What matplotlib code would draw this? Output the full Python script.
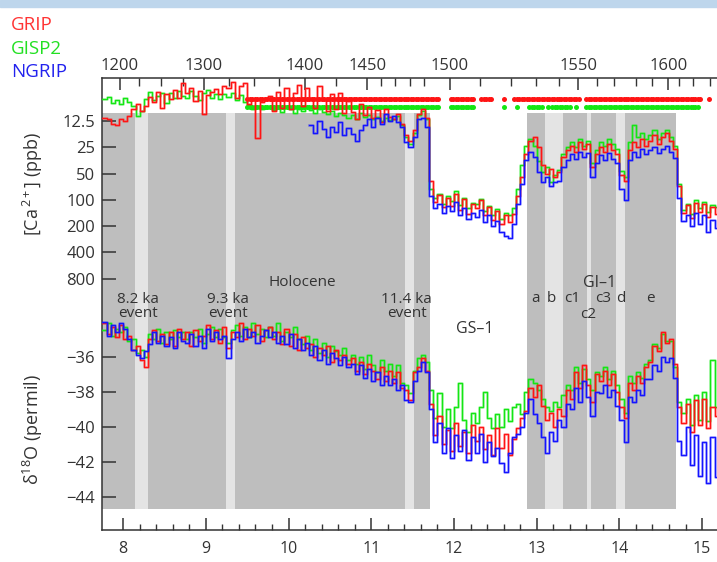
import numpy as np
import matplotlib
matplotlib.use('Agg')
import matplotlib.pyplot as plt
import matplotlib.transforms as mtransforms
from matplotlib.patches import Rectangle

plt.rcParams['font.family'] = ['Open Sans', 'DejaVu Sans']
plt.rcParams['mathtext.fontset'] = 'custom'
plt.rcParams['mathtext.rm'] = 'Open Sans'
plt.rcParams['mathtext.it'] = 'Open Sans:italic'
plt.rcParams['mathtext.bf'] = 'Open Sans:bold'

# ---- data (ages in ka b2k, step 0.05 ka) ----
age = np.round(np.arange(7.75, 15.151, 0.05), 2)

d18_grip = [
    -34.1, -34.7, -34.3, -34.9, -34.2, -35.0, -34.8, -35.6, -35.4, -36.2,
    -36.6, -35.0, -34.5, -35.1, -34.7, -35.3, -34.6, -35.4, -34.4, -35.0,
    -34.6, -35.4, -34.5, -35.1, -34.8, -34.2, -35.0, -34.5, -35.2, -34.3,
    -35.5, -34.6, -34.9, -34.1, -35.0, -34.4, -34.8, -34.2, -35.1, -34.5,
    -34.3, -35.0, -34.6, -35.3, -34.4, -35.4, -34.7, -35.6, -34.9, -35.5,
    -35.3, -36.0, -35.5, -35.9, -35.4, -36.3, -35.6, -36.2, -35.9, -36.4,
    -36.1, -36.8, -36.3, -37.0, -36.4, -36.8, -37.3, -36.6, -37.4, -36.8,
    -37.5, -36.9, -37.8, -37.9, -38.5, -36.9, -36.6, -36.1, -36.8, -38.7,
    -40.5, -39.4, -41.0, -40.2, -41.4, -39.8, -41.1, -40.3, -41.5, -39.9,
    -40.8, -40.0, -41.3, -40.5, -41.6, -40.1, -41.2, -40.4, -41.6, -40.7,
    -40.1, -39.5, -39.1, -37.8, -38.3, -37.6, -38.8, -39.6, -39.2, -40.0,
    -39.0, -39.4, -37.9, -38.4, -36.9, -37.8, -36.5, -37.6, -38.6, -37.0,
    -37.4, -36.8, -37.6, -37.0, -38.0, -38.9, -39.5, -37.5, -37.9, -37.1,
    -37.5, -36.6, -36.3, -35.4, -35.7, -34.6, -35.2, -35.0, -36.4, -38.9,
    -39.8, -38.7, -40.3, -38.5, -39.9, -38.4, -40.1, -38.9, -39.4]

d18_gisp2 = [
    -34.5, -34.1, -34.8, -34.4, -34.6, -34.3, -35.1, -35.0, -35.8, -35.6,
    -36.0, -34.7, -35.0, -34.4, -35.2, -34.6, -35.0, -34.5, -34.9, -34.6,
    -35.0, -34.6, -34.9, -34.4, -35.2, -34.7, -34.3, -34.9, -34.4, -34.9,
    -35.2, -34.5, -34.2, -34.8, -34.3, -34.9, -34.1, -34.7, -34.4, -34.9,
    -34.3, -34.8, -34.1, -35.1, -34.6, -34.9, -34.3, -35.0, -35.3, -34.8,
    -35.6, -35.0, -35.8, -35.2, -36.0, -35.4, -35.7, -35.9, -35.5, -36.2,
    -35.9, -36.4, -36.0, -36.7, -35.9, -36.5, -36.9, -36.2, -36.8, -36.4,
    -37.1, -36.5, -37.5, -37.6, -38.1, -36.8, -36.1, -35.9, -36.3, -37.9,
    -39.5, -38.1, -40.0, -39.0, -40.1, -38.9, -37.5, -39.6, -40.3, -39.2,
    -39.8, -38.9, -38.0, -39.5, -40.1, -39.3, -40.0, -39.0, -39.7, -38.9,
    -38.7, -39.3, -38.0, -37.3, -37.5, -37.9, -38.4, -38.9, -39.1, -38.6,
    -38.9, -38.2, -37.6, -37.9, -36.6, -37.5, -36.7, -37.3, -37.9, -36.9,
    -37.1, -36.6, -37.3, -36.8, -37.6, -38.4, -39.2, -37.1, -37.5, -36.9,
    -37.2, -36.4, -36.2, -35.3, -35.5, -34.7, -35.1, -35.1, -36.6, -38.6,
    -39.2, -38.4, -39.9, -38.2, -39.6, -38.0, -39.7, -36.2, -38.9]

d18_ngrip = [
    -34.0, -34.8, -34.2, -34.6, -34.1, -34.4, -35.0, -35.6, -35.9, -36.1,
    -35.7, -35.3, -34.6, -35.2, -34.8, -35.4, -34.9, -35.5, -34.6, -35.1,
    -35.2, -34.7, -35.4, -34.8, -35.5, -34.4, -35.1, -34.6, -35.0, -34.8,
    -36.1, -35.0, -34.6, -35.1, -34.4, -34.9, -34.6, -35.2, -34.8, -34.5,
    -34.9, -34.6, -35.2, -34.8, -35.3, -34.7, -35.5, -35.0, -35.6, -35.2,
    -35.9, -35.4, -36.2, -35.6, -36.4, -35.8, -36.1, -36.5, -36.0, -36.6,
    -36.4, -37.0, -36.5, -37.2, -36.7, -37.4, -36.9, -37.6, -37.1, -37.6,
    -37.3, -37.9, -37.6, -38.5, -38.6, -37.4, -36.8, -36.3, -36.9, -39.0,
    -40.9, -39.8, -41.5, -40.1, -41.8, -40.5, -41.4, -40.2, -41.9, -40.6,
    -41.5, -40.4, -42.0, -40.9, -41.7, -41.2, -42.1, -42.6, -41.5, -40.6,
    -40.4, -40.0, -39.2, -38.4, -39.3, -39.8, -40.6, -41.5, -40.3, -40.8,
    -39.6, -40.0, -38.7, -39.0, -37.8, -38.6, -37.4, -38.3, -39.4, -38.0,
    -38.1, -37.6, -38.3, -37.9, -38.8, -39.6, -40.9, -38.3, -38.6, -37.9,
    -38.2, -37.3, -37.3, -36.5, -36.8, -36.0, -36.3, -36.1, -37.2, -40.8,
    -41.6, -40.0, -42.2, -40.5, -42.8, -40.9, -43.2, -40.6, -42.9]

ca_grip = [
    11.5, 12.0, 13.5, 14.0, 11.8, 12.6, 11.0, 9.0, 8.0, 9.5,
    8.4, 6.6, 7.5, 5.8, 8.9, 6.2, 7.0, 5.5, 6.8, 4.6,
    6.0, 5.2, 7.4, 5.6, 10.5, 6.3, 5.8, 5.4, 6.1, 5.0,
    5.3, 4.5, 6.8, 5.0, 4.6, 8.0, 7.2, 19.5, 7.5, 6.9,
    6.5, 9.6, 5.8, 8.8, 5.2, 9.0, 6.0, 4.8, 8.4, 5.3,
    6.8, 8.9, 5.0, 7.2, 9.6, 6.1, 9.2, 5.9, 10.2, 7.4,
    9.8, 11.8, 7.9, 10.6, 8.6, 11.6, 9.3, 12.8, 9.0, 11.3,
    11.8, 10.4, 13.5, 18.0, 21.0, 16.0, 10.5, 9.2, 11.6, 60.0,
    105, 88, 122, 94, 116, 85, 130, 98, 145, 112,
    125, 100, 150, 122, 168, 135, 190, 150, 180, 145,
    90, 55, 30, 21, 19, 25, 40, 50, 44, 55,
    48, 32, 27, 24, 28, 22, 26, 23, 42, 30,
    25, 28, 23, 27, 30, 52, 60, 27, 22, 25,
    20, 24, 21, 18, 23, 19, 17, 21, 26, 70,
    140, 115, 160, 108, 138, 112, 155, 120, 145]

ca_gisp2 = [
    7.0, 6.6, 7.8, 7.2, 8.0, 6.8, 7.5, 8.5, 11.0, 9.5,
    7.0, 5.8, 7.2, 6.5, 5.9, 7.8, 6.0, 6.8, 5.6, 6.4,
    6.9, 5.7, 6.5, 7.2, 6.0, 5.5, 6.8, 6.2, 7.0, 6.1,
    6.6, 5.9, 7.1, 6.3, 7.5, 8.2, 9.0, 8.5, 9.2, 8.8,
    8.6, 9.4, 8.9, 9.8, 8.4, 9.2, 10.0, 9.1, 9.6, 8.7,
    9.3, 10.2, 9.0, 9.8, 10.5, 9.6, 11.0, 10.0, 10.8, 11.5,
    10.6, 11.8, 10.2, 11.3, 10.8, 12.0, 11.2, 12.6, 11.5, 12.2,
    12.0, 11.0, 14.0, 19.0, 23.0, 17.0, 10.8, 9.6, 12.0, 75.0,
    96, 85, 110, 90, 102, 80, 115, 95, 125, 108,
    112, 98, 135, 118, 148, 128, 165, 140, 150, 125,
    75, 40, 24, 20, 24, 36, 48, 42, 62, 52,
    45, 30, 25, 22, 25, 20, 24, 21, 38, 27,
    22, 24, 20, 23, 26, 47, 55, 22, 14, 19,
    17, 20, 18, 16, 20, 17, 16, 19, 24, 65,
    130, 110, 145, 100, 125, 105, 138, 115, 120]

# NGRIP Ca starts at 10.25 ka
ca_ngrip = [
    14.0, 17.0, 12.5, 15.5, 19.0, 14.5, 16.5, 13.0, 18.0, 15.0,
    17.5, 21.0, 16.0, 14.0, 12.0, 14.5, 11.5, 13.5, 10.5, 12.5,
    11.0, 13.0, 14.5, 22.0, 25.0, 19.0, 12.0, 11.5, 14.5, 90.0,
    125, 110, 140, 118, 135, 105, 150, 125, 165, 140,
    155, 130, 180, 150, 200, 175, 230, 260, 275, 190,
    110, 65, 35, 28, 32, 48, 62, 55, 70, 62,
    60, 42, 35, 30, 34, 28, 32, 29, 55, 38,
    31, 35, 29, 34, 38, 75, 100, 35, 28, 32,
    26, 30, 27, 25, 29, 26, 24, 28, 33, 95,
    175, 150, 200, 140, 190, 150, 230, 170, 210]
age_ngrip_ca = age[age >= 10.249]

# data coverage markers (age ranges)
red_dot_ranges = [(9.50, 11.83), (11.96, 12.25), (12.33, 12.45), (12.60, 12.60),
                  (12.73, 13.52), (13.60, 14.99), (15.08, 15.08)]
green_dot_ranges = [(9.50, 11.83), (11.96, 12.25), (12.60, 12.60), (12.76, 12.76),
                    (12.91, 13.07), (13.14, 13.14), (13.19, 13.42), (13.48, 13.48),
                    (13.60, 14.97)]

# periods (age ranges)
dark_spans = [(7.70, 11.71), (12.883, 14.689)]
light_spans = [(8.147, 8.296), (9.243, 9.348), (11.412, 11.513),
               (13.105, 13.314), (13.613, 13.661), (13.955, 14.072)]

# top depth axis (m) and matching ages
depth_m = [1200, 1225, 1250, 1275, 1300, 1325, 1350, 1375, 1400, 1425, 1450,
           1460, 1470, 1480, 1490, 1500, 1510, 1520, 1530, 1540, 1550,
           1560, 1570, 1580, 1590, 1600, 1610, 1620, 1630]
depth_age = [7.958, 8.187, 8.453, 8.719, 8.973, 9.276, 9.578, 9.880, 10.20, 10.57, 10.95,
             11.12, 11.29, 11.47, 11.64, 11.95, 12.31, 12.69, 12.99, 13.27, 13.50,
             13.73, 13.94, 14.20, 14.39, 14.59, 14.72, 14.89, 15.10]
depth_labelled = [1200, 1300, 1400, 1450, 1500, 1550, 1600]

ca_ticks = [12.5, 25, 50, 100, 200, 400, 800]
d18_ticks = [-36, -38, -40, -42, -44]

RED, GREEN, BLUE = '#ff1414', '#14e614', '#1414ff'
DARK = '#333333'
XMIN, XMAX = 7.745, 15.18

W, H = 717, 562
fig = plt.figure(figsize=(W / 100, H / 100), dpi=100)
fig.patches.append(Rectangle((0, 1 - 7 / H), 1, 7 / H, transform=fig.transFigure,
                             color='#bed6ec', zorder=0))

def px(l, t, r, b):
    return [l / W, 1 - b / H, (r - l) / W, (b - t) / H]

# frame axes: shading + age axis + depth axis
ax = fig.add_axes(px(102, 78, 717, 530))
ax.set_xlim(XMIN, XMAX)
ax.set_ylim(0, 1)
ax.set_yticks([])
for s in ['left', 'top', 'bottom']:
    ax.spines[s].set_color(DARK)
    ax.spines[s].set_linewidth(1.1)
ax.spines['right'].set_visible(False)
g0, g1 = (530 - 509) / 452, (530 - 113) / 452
for a, b in dark_spans:
    ax.axvspan(a, b, ymin=g0, ymax=g1, color='#bebebe', lw=0, zorder=0)
for a, b in light_spans:
    ax.axvspan(a, b, ymin=g0, ymax=g1, color='#e4e4e4', lw=0, zorder=0.5)

ax.set_xticks(range(8, 16))
ax.set_xticks([round(8 + 0.2 * i, 1) for i in range(1, 36) if (i % 5) != 0], minor=True)
ax.tick_params(axis='x', which='major', direction='in', length=8.5, width=1.1,
               color=DARK, labelsize=11.5, labelcolor=DARK, pad=8)
ax.tick_params(axis='x', which='minor', direction='in', length=4.5, width=1.0, color=DARK)

axt = ax.twiny()
axt.set_xlim(XMIN, XMAX)
maj = [a for d, a in zip(depth_m, depth_age) if d in depth_labelled]
mnr = [a for d, a in zip(depth_m, depth_age) if d not in depth_labelled]
axt.set_xticks(maj)
axt.set_xticklabels([str(d) for d in depth_labelled])
axt.set_xticks(mnr, minor=True)
axt.tick_params(axis='x', which='major', direction='in', length=8.5, width=1.1,
                color=DARK, labelsize=12, labelcolor=DARK, pad=3)
axt.tick_params(axis='x', which='minor', direction='in', length=5.5, width=1.0, color=DARK)
for s in axt.spines.values():
    s.set_visible(False)

tr = mtransforms.blended_transform_factory(ax.transData, ax.transAxes)
for ranges, yf, col in [(red_dot_ranges, (530 - 99) / 452, RED),
                        (green_dot_ranges, (530 - 106.5) / 452, GREEN)]:
    for a, b in ranges:
        xs = np.arange(a, b + 0.001, 0.03)
        ax.plot(xs, np.full(len(xs), yf), 'o', ms=3.6, color=col, mec='none',
                transform=tr, zorder=3, clip_on=False)

def steps(axis, x, y, col):
    xx = np.append(x, XMAX + 0.05)
    yy = np.append(y, y[-1])
    axis.step(xx, yy, where='post', color=col, lw=2.0, alpha=0.28)
    axis.step(xx, yy, where='post', color=col, lw=1.0)

# Ca panel
axc = fig.add_axes(px(102, 78, 717, 300))
axc.patch.set_alpha(0)
axc.set_yscale('log')
axc.set_xlim(XMIN, XMAX)
axc.set_ylim(12.5 * 2 ** ((300 - 121) / 26.3), 12.5 * 2 ** ((78 - 121) / 26.3))
steps(axc, age, ca_gisp2, GREEN)
steps(axc, age, ca_grip, RED)
steps(axc, age_ngrip_ca, ca_ngrip, BLUE)
axc.set_yticks(ca_ticks)
axc.set_yticklabels(['12.5', '25', '50', '100', '200', '400', '800'])
axc.minorticks_off()
axc.set_xticks([])
axc.tick_params(axis='y', direction='in', length=10, width=1.1, color=DARK,
                labelsize=12, labelcolor=DARK, pad=5)
for s in axc.spines.values():
    s.set_visible(False)

# d18O panel
axd = fig.add_axes(px(102, 300, 717, 530))
axd.patch.set_alpha(0)
axd.set_xlim(XMIN, XMAX)
axd.set_ylim(-36 - (530 - 356.7) / 17.5, -36 - (300 - 356.7) / 17.5)
steps(axd, age, d18_gisp2, GREEN)
steps(axd, age, d18_grip, RED)
steps(axd, age, d18_ngrip, BLUE)
axd.set_yticks(d18_ticks)
axd.set_xticks([])
axd.tick_params(axis='y', direction='in', length=10, width=1.1, color=DARK,
                labelsize=12, labelcolor=DARK, pad=5)
for s in axd.spines.values():
    s.set_visible(False)

# annotations
def yf(ypx):
    return (530 - ypx) / 452

for txt, x in [('8.2 ka\nevent', 8.175), ('9.3 ka\nevent', 9.264), ('11.4 ka\nevent', 11.428)]:
    ax.text(x, yf(306.5), txt, transform=tr, ha='center', va='center', fontsize=11,
            linespacing=0.95, color=DARK, zorder=5)
ax.text(10.17, yf(283), 'Holocene', transform=tr, ha='center', va='center', fontsize=11, color=DARK, zorder=5)
ax.text(12.25, yf(329), 'GS–1', transform=tr, ha='center', va='center', fontsize=11.5, color=DARK, zorder=5)
ax.text(13.76, yf(283), 'GI–1', transform=tr, ha='center', va='center', fontsize=11.5, color=DARK, zorder=5)
for txt, x in [('a', 12.988), ('b', 13.18), ('c1', 13.435), ('c3', 13.80), ('d', 14.016), ('e', 14.38)]:
    ax.text(x, yf(299), txt, transform=tr, ha='center', va='center', fontsize=11, color=DARK, zorder=5)
ax.text(13.617, yf(314), 'c2', transform=tr, ha='center', va='center', fontsize=11, color=DARK, zorder=5)

fig.text(33 / W, 1 - 184 / H, '[Ca$^{\\,2+}$] (ppb)', rotation=90, ha='center', va='center',
         fontsize=13, color=DARK)
fig.text(33 / W, 1 - 430 / H, 'δ$^{18}$O (permil)', rotation=90, ha='center', va='center',
         fontsize=13, color=DARK)

fig.text(11 / W, 1 - 25 / H, 'GRIP', color='#ff3333', fontsize=13.5, va='center')
fig.text(11 / W, 1 - 49 / H, 'GISP2', color='#22e022', fontsize=13.5, va='center')
fig.text(11 / W, 1 - 72 / H, 'NGRIP', color='#2222ee', fontsize=13.5, va='center')

fig.savefig('out.png', dpi=100)
